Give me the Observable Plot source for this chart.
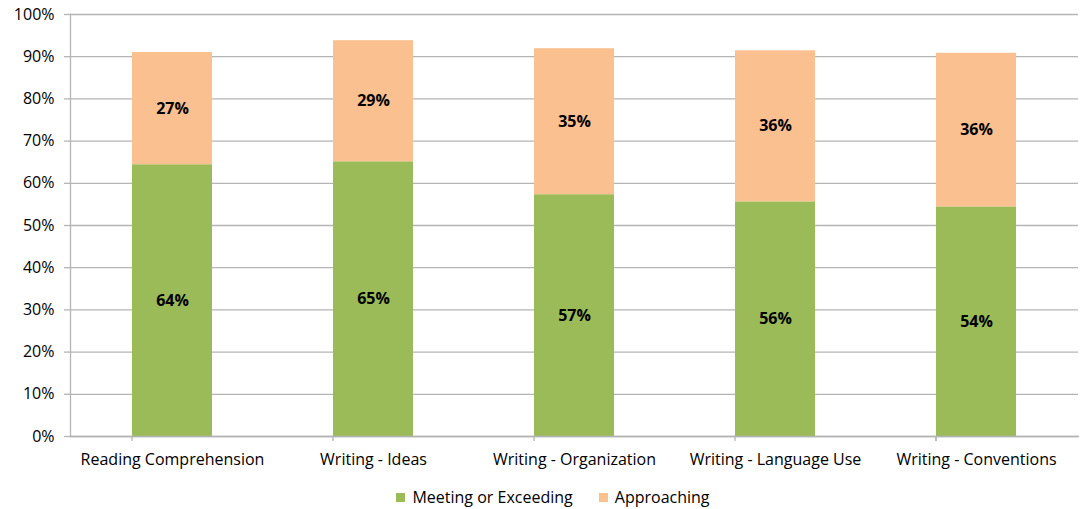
<!DOCTYPE html>
<html>
<head>
<meta charset="utf-8">
<script src="https://cdn.jsdelivr.net/npm/d3@7"></script>
<script src="https://cdn.jsdelivr.net/npm/@observablehq/plot@0.6"></script>
<style>
  html, body { margin: 0; padding: 0; background: #fff; }
  body { width: 1084px; height: 509px; overflow: hidden; font-family: "Open Sans", sans-serif; }
  #legend { display: flex; justify-content: center; align-items: center; gap: 26px; font-size: 16px; color: #000; margin-top: 16px; padding-left: 22px; }
  #legend span.sw { display: inline-block; width: 9px; height: 9px; margin-right: 7px; }
  #legend .item { display: flex; align-items: center; }
</style>
</head>
<body>
<div id="chart"></div>
<div id="legend"></div>
<script>
const categories = ["Reading Comprehension", "Writing - Ideas", "Writing - Organization", "Writing - Language Use", "Writing - Conventions"];
const seriesNames = ["Meeting or Exceeding", "Approaching"];
const meeting = [0.644, 0.651, 0.573, 0.556, 0.544];
const approaching = [0.266, 0.287, 0.346, 0.358, 0.364];
const colors = ["#9BBB59", "#FAC090"];
const yTicks = [0, 0.1, 0.2, 0.3, 0.4, 0.5, 0.6, 0.7, 0.8, 0.9, 1.0];

const data = [];
categories.forEach((c, i) => {
  data.push({category: c, series: seriesNames[0], value: meeting[i]});
  data.push({category: c, series: seriesNames[1], value: approaching[i]});
});

const W = 1084, H = 470, mL = 70, mR = 6, mT = 14, mB = 34;
const step = (W - mL - mR) / categories.length;
const fmt = d3.format(".0%");
const gridColor = "#b4b4b4";

const boundaries = categories.map((c) => ({category: c, dx: -step / 2}))
  .concat([{category: categories[categories.length - 1], dx: step / 2}]);

const chart = Plot.plot({
  width: W, height: H,
  marginLeft: mL, marginRight: mR, marginTop: mT, marginBottom: mB,
  style: {fontFamily: "Open Sans, sans-serif", fontSize: "16px", color: "#000", background: "#fff"},
  x: {domain: categories, paddingInner: 0.6, paddingOuter: 0.3, label: null},
  y: {domain: [0, 1], label: null},
  color: {domain: seriesNames, range: colors},
  marks: [
    Plot.ruleY(yTicks, {stroke: gridColor, strokeWidth: 1.3, strokeOpacity: 1}),
    Plot.barY(data, {x: "category", y: "value", fill: "series", order: seriesNames}),
    Plot.text(data, Plot.stackY({x: "category", y: "value", z: "series", order: seriesNames, text: d => fmt(d.value), fontWeight: "bold", fontSize: 16, fill: "#000"})),
    Plot.axisY({ticks: yTicks, tickFormat: d3.format(".0%"), tickSize: 6, tickPadding: 10, stroke: gridColor, strokeWidth: 1.3, fontSize: 16, label: null}),
    Plot.axisX({tickSize: 0, tickPadding: 17, fontSize: 16, label: null}),
    Plot.ruleX(boundaries, {x: "category", dx: "dx", y1: 0, y2: -0.012, stroke: gridColor, strokeWidth: 1.3}),
    Plot.frame({anchor: "left", stroke: gridColor, strokeWidth: 1.3}),
    Plot.frame({anchor: "bottom", stroke: gridColor, strokeWidth: 1.3})
  ]
});
document.getElementById("chart").appendChild(chart);

const legend = document.getElementById("legend");
seriesNames.forEach((s, i) => {
  const item = document.createElement("div");
  item.className = "item";
  const sw = document.createElement("span");
  sw.className = "sw";
  sw.style.background = colors[i];
  item.appendChild(sw);
  item.appendChild(document.createTextNode(s));
  legend.appendChild(item);
});
</script>
</body>
</html>
